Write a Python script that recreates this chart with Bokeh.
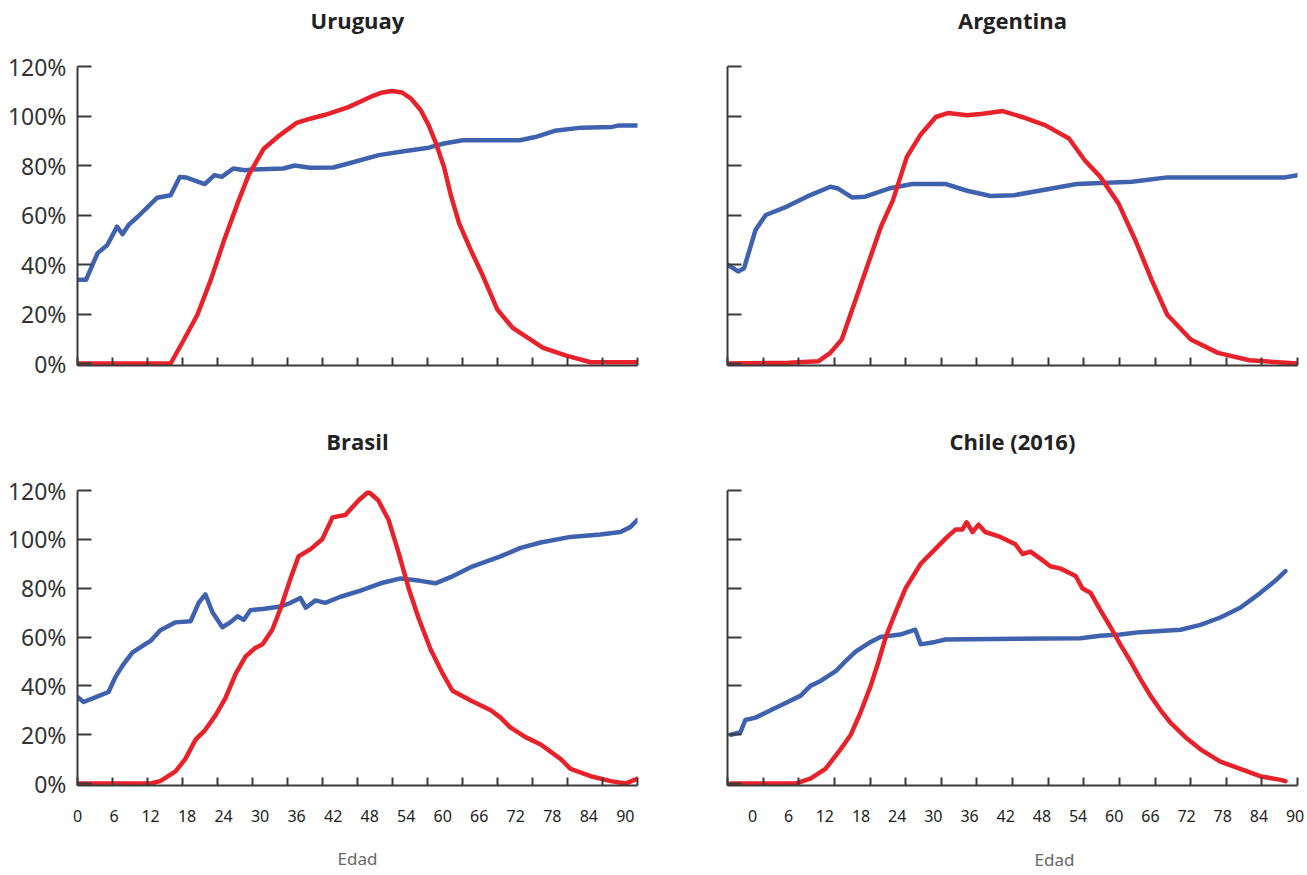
import numpy as np
from bokeh.plotting import figure
from bokeh.models import (Range1d, FixedTicker, LinearAxis, NumeralTickFormatter,
                          CustomJSTickFormatter, Title)
from bokeh.layouts import column, row
from bokeh.embed import file_html
from bokeh.resources import INLINE

# ---------------- data (values in %) ----------------
ury_blue_age = [0, 1.4, 3.3, 4.9, 6.5, 7.4, 8.4, 9.9, 13.1, 15.3, 16.8, 17.8, 20.9, 22.5, 23.7,
                25.6, 27.5, 28.8, 33.8, 35.7, 38.2, 42, 44.5, 49.5, 53.9, 57.7, 60.2, 63.3, 72.7,
                75.2, 78.4, 82.8, 87.8, 89, 92]
ury_blue_val = [33.8, 33.8, 44.6, 47.9, 55.3, 52.3, 56, 59.3, 67, 68, 75.4, 75.2, 72.5, 76.1, 75.4,
                78.8, 78.1, 78.4, 78.8, 80, 79.1, 79.2, 80.8, 84.2, 85.9, 87.2, 88.9, 90.2, 90.2,
                91.5, 94, 95.3, 95.6, 96.2, 96.2]
ury_red_age = [0, 15.3, 17.5, 19.7, 21.9, 24.1, 26.3, 28.1, 30.6, 33.2, 36, 38.2, 40.7, 44.5,
               48.3, 50.1, 51.7, 53.3, 54.8, 56.4, 57.7, 58.9, 60.2, 61.4, 62.7, 64.6, 66.4, 69,
               71.5, 76.5, 80.3, 84.3, 92]
ury_red_val = [0, 0, 9.7, 19.7, 33.8, 49.9, 64.7, 76.1, 86.8, 92.2, 97.2, 98.9, 100.5, 103.6,
               107.9, 109.5, 110.1, 109.5, 107, 102.3, 96.2, 88.9, 79.5, 67.4, 56.6, 45.9, 36.5, 21.7,
               14.4, 6.3, 3.2, 0.5, 0.5]

arg_blue_age = [-4.15, -2.4, -1.4, 0.5, 2.2, 5.7, 9, 12.9, 14.2, 16.5, 18.7, 22.6, 26.5, 32.1,
                35.6, 39.5, 43.4, 48, 53.8, 62.9, 68.8, 88.3, 90.4]
arg_blue_val = [39.9, 37.2, 38.5, 54, 60, 63.4, 67.4, 71.4, 70.7, 67.1, 67.4, 70.7, 72.5, 72.5,
                69.8, 67.7, 68, 70, 72.5, 73.4, 75.2, 75.2, 76.1]
arg_red_age = [-4.15, 6, 10.9, 12.9, 14.8, 17.1, 19.4, 21.3, 23.3, 25.6, 27.8, 30.4, 32.4, 35.6,
               38.2, 41.5, 44.7, 48.6, 52.5, 55.1, 57.7, 60.7, 63.6, 66.2, 68.8, 72.7, 77.2, 82.4,
               90.4]
arg_red_val = [0, 0.3, 0.9, 4.3, 9.7, 25.8, 41.9, 55.3, 66, 83.5, 92.2, 99.6, 101.2, 100.3,
               100.9, 102, 99.6, 96.2, 90.9, 82.1, 75.4, 64.7, 49.3, 33.8, 19.7, 9.7, 4.3, 1.3, 0]

bra_blue_age = [0, 1, 3, 5.1, 6.2, 7.4, 9, 10.7, 12, 13.6, 16.1, 18.6, 19.9, 21, 22.2, 23.8, 25.1,
                26.3, 27.3, 28.4, 30.4, 33.4, 35, 36.6, 37.5, 39.1, 40.7, 43.2, 46.5, 49.8, 53.1,
                56.3, 58.8, 61.3, 64.6, 69.5, 72.8, 76.1, 81, 85.9, 89.2, 90.8, 92]
bra_blue_val = [35.4, 33.4, 35.4, 37.5, 43.5, 48.3, 53.6, 56.4, 58.4, 62.8, 66, 66.5, 74, 77.5,
                70, 64, 66, 68.5, 67, 71, 71.5, 72.5, 74, 76, 72, 75, 74, 76.5, 79, 82, 84, 83, 82,
                84.5, 88.6, 93, 96.5, 98.7, 101, 102, 103, 105, 108]
bra_red_age = [0, 12, 13.6, 16.1, 17.7, 19.4, 21, 22.7, 24.3, 26, 27.6, 29.2, 30.4, 32, 33.4, 35,
               36.3, 38.3, 40.2, 41.9, 44, 46.2, 47.8, 49.4, 51.1, 52.7, 54.4, 56, 58, 60, 61.6,
               64.6, 67.9, 69.5, 71.1, 73.6, 76.1, 79.4, 81, 84.3, 87.6, 90, 92]
bra_red_val = [0, 0, 1, 5, 10, 18, 22, 28, 35, 45, 52, 55.5, 57, 63, 72, 84, 93, 96, 100, 109,
               110, 116, 119.5, 116, 108, 95, 80, 68, 55, 45, 38, 34, 30, 27, 23, 19, 16, 10, 6,
               3, 1, 0, 2]

chl_blue_age = [-3.6, -2, -1.2, 0.5, 3, 5.5, 8, 9.6, 11.3, 13.8, 15.4, 17.1, 19.6, 21.2, 24.5,
                27, 27.9, 30.3, 32, 54.4, 57.7, 61, 64.3, 71, 74.3, 77.6, 80.9, 84.2, 86.7, 88.4]
chl_blue_val = [20, 21, 26, 27, 30, 33, 36, 40, 42, 46, 50, 54, 58, 60, 61, 63, 57, 58, 59, 59.5,
                60.5, 61, 62, 63, 65, 68, 72, 78, 83, 87]
chl_red_age = [-3.6, 7.1, 9.6, 12.1, 14.6, 16.3, 17.9, 19.6, 20.9, 22.1, 23.7, 25.4, 27.9, 30.3,
               32.3, 33.7, 34.8, 35.5, 36.5, 37.5, 38.6, 41.1, 43.6, 44.8, 46.1, 47.8, 49.4, 51.1,
               53.6, 54.7, 56.1, 57.7, 59.4, 61, 62.7, 64.3, 66, 67.7, 69.3, 71.8, 74.3, 77.6,
               80.9, 84.2, 87.6, 88.4]
chl_red_val = [0, 0, 2, 6, 14, 20, 29, 40, 50, 60, 70, 80, 90, 96, 101, 104, 104, 107, 103, 106,
               103, 101, 98, 94, 95, 92, 89, 88, 85, 80, 78, 71, 64, 57, 50, 43, 36, 30, 25, 19,
               14, 9, 6, 3, 1.5, 1]

x_labels = [0, 6, 12, 18, 24, 30, 36, 42, 48, 54, 60, 66, 72, 78, 84, 90]
y_ticks = [0, 0.2, 0.4, 0.6, 0.8, 1.0, 1.2]

BLUE = "#3f62ae"
RED = "#e8222b"
AXC = "#3a3a3a"


def empty_fmt():
    return CustomJSTickFormatter(code="return ''")


def blank_axis(**kw):
    a = LinearAxis(ticker=FixedTicker(ticks=[]), **kw)
    a.axis_line_color = None
    a.major_tick_line_color = None
    a.minor_tick_line_color = None
    a.major_tick_in = 0
    a.major_tick_out = 0
    a.major_label_text_font_size = "1px"
    a.major_label_standoff = 0
    return a


def panel(title, ba, bv, ra, rv, xr, width, height, left, frame_w, top, frame_h,
          show_y_labels, show_x_labels, edad_offset, title_standoff):
    p = figure(width=width, height=height, output_backend="svg", toolbar_location=None,
               x_range=Range1d(*xr), y_range=Range1d(-0.008, 1.2), title=None,
               min_border_left=left, min_border_right=width - left - frame_w,
               min_border_top=top, min_border_bottom=height - top - frame_h)
    p.outline_line_color = None
    p.grid.visible = False
    p.background_fill_color = "white"
    p.border_fill_color = "white"

    # x tick axis (ticks only) - the default one below the frame
    xa = p.below[0]
    xa.ticker = FixedTicker(ticks=list(np.linspace(xr[0], xr[1], 17)))
    xa.formatter = empty_fmt()
    xa.major_tick_in = 8
    xa.major_tick_out = 0
    xa.minor_tick_line_color = None
    xa.axis_line_width = 2
    xa.axis_line_color = AXC
    xa.major_tick_line_color = AXC
    xa.major_tick_line_width = 2
    xa.major_label_standoff = 0
    xa.major_label_text_font_size = "1px"

    # panel title, drawn as the label of a bare axis above the frame
    ta = blank_axis(axis_label=title)
    ta.axis_label_standoff = title_standoff
    ta.axis_label_text_font = "Open Sans"
    ta.axis_label_text_font_style = "bold"
    ta.axis_label_text_font_size = "22px"
    ta.axis_label_text_color = "#222222"
    p.add_layout(ta, "above")

    ya = p.left[0]
    ya.ticker = FixedTicker(ticks=y_ticks)
    ya.major_tick_in = 14
    ya.major_tick_out = 0
    ya.minor_tick_line_color = None
    ya.axis_line_width = 2
    ya.axis_line_color = AXC
    ya.major_tick_line_color = AXC
    ya.major_tick_line_width = 2
    if show_y_labels:
        ya.formatter = NumeralTickFormatter(format="0%")
        ya.major_label_text_font = "Noto Sans"
        ya.major_label_text_font_size = "23px"
        ya.major_label_text_color = "#333333"
        ya.major_label_standoff = 11
    else:
        ya.formatter = empty_fmt()
        ya.major_label_text_font_size = "1px"

    if show_x_labels:
        la = LinearAxis(ticker=FixedTicker(ticks=x_labels))
        la.axis_line_color = None
        la.major_tick_line_color = None
        la.minor_tick_line_color = None
        la.major_tick_in = 0
        la.major_tick_out = 0
        la.major_label_standoff = 24
        la.major_label_text_font = "Noto Sans"
        la.major_label_text_font_size = "16px"
        la.major_label_text_color = "#222222"
        p.add_layout(la, "below")
        if edad_offset is None:
            # centred axis title
            sp = blank_axis(axis_label="Edad")
            sp.axis_label_standoff = 22
            sp.axis_label_text_font = "Noto Sans"
            sp.axis_label_text_font_style = "normal"
            sp.axis_label_text_font_size = "17px"
            sp.axis_label_text_color = "#666666"
            p.add_layout(sp, "below")
        else:
            # small gap, then an off-centre axis title
            gap = blank_axis(axis_label=" ")
            gap.axis_label_standoff = 4
            gap.axis_label_text_font_size = "8px"
            p.add_layout(gap, "below")
            et = Title(text="Edad", align="left", offset=edad_offset,
                       text_font="Noto Sans", text_font_style="normal",
                       text_font_size="17px", text_color="#666666")
            p.add_layout(et, "below")

    p.line(ba, [v / 100 for v in bv], line_color=BLUE, line_width=4.5,
           line_join="round", line_cap="round")
    p.line(ra, [v / 100 for v in rv], line_color=RED, line_width=4.5,
           line_join="round", line_cap="round")
    return p


LX = (0, 92)
RX = (-4.15, 90.4)

p1 = panel("Uruguay", ury_blue_age, ury_blue_val, ury_red_age, ury_red_val, LX,
           660, 421, 77, 560, 66, 299, True, False, None, 32)
p2 = panel("Argentina", arg_blue_age, arg_blue_val, arg_red_age, arg_red_val, RX,
           647, 421, 67, 570, 66, 299, False, False, None, 32)
p3 = panel("Brasil", bra_blue_age, bra_blue_val, bra_red_age, bra_red_val, LX,
           660, 454, 77, 560, 69, 300, True, True, None, 35)
p4 = panel("Chile (2016)", chl_blue_age, chl_blue_val, chl_red_age, chl_red_val, RX,
           647, 454, 67, 570, 69, 300, False, True, 307, 35)

layout = column(row(p1, p2), row(p3, p4))

open("out.html", "w").write(file_html(layout, INLINE))
